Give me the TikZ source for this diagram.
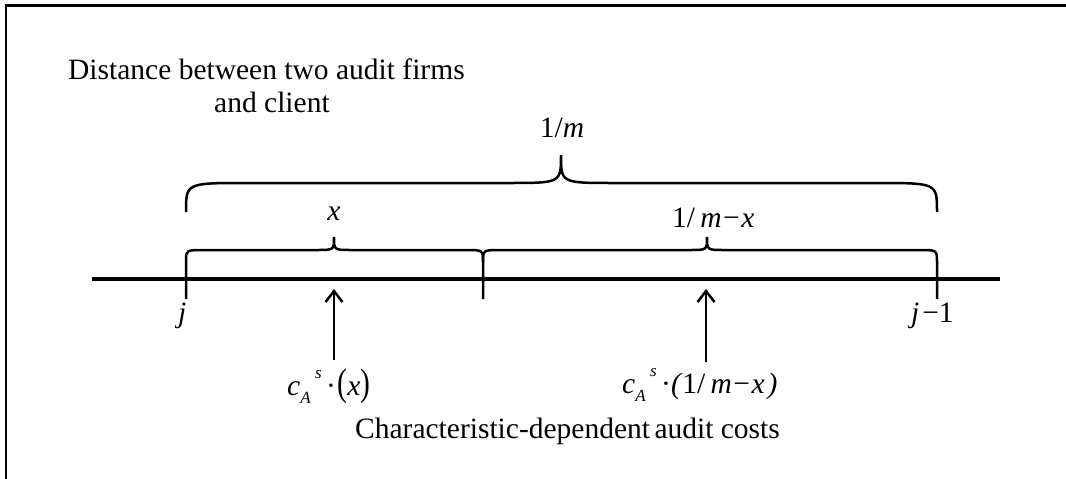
\documentclass[tikz,border=0pt]{standalone}
\usepackage{fontspec}
\setmainfont{Liberation Serif}
\usetikzlibrary{arrows.meta}
\newcommand{\mi}[1]{\textit{#1}}
\newcommand{\smi}[1]{{\fontsize{17}{17}\selectfont\textit{#1}}}
\begin{document}
\begin{tikzpicture}[x=1pt,y=-1pt,
  lbl/.style={inner sep=0pt,font=\fontsize{29.5}{33}\selectfont},
  frameline/.style={line width=2.8pt},
  axisline/.style={line width=3.2pt},
  bracel/.style={line width=2.5pt},
  costarrow/.style={line width=2.5pt,-{Straight Barb[length=11pt,width=17pt]}}]
\useasboundingbox (0,0) rectangle (1066,479);
% frame (top and left only)
\draw[frameline] (6,479) -- (6,5.5) -- (1066,5.5);
% axis
\coordinate (axL) at (92,279);
\coordinate (axR) at (1000,279);
\draw[axisline] (axL) -- (axR);
% ticks
\coordinate (tj) at (186,299);
\coordinate (tm) at (483,299);
\coordinate (tr) at (937,299);
% small braces (with ticks)
\draw[bracel] (tj) -- (186,260) .. controls (186,250) .. (206,250) -- (317,250)
  .. controls (334,250) .. (334,237) .. controls (334,250) .. (351,250) -- (465,250)
  .. controls (483,250) .. (483,262) -- (tm);
\draw[bracel] (483,262) .. controls (483,250) .. (501,250) -- (690,250)
  .. controls (707,250) .. (707,237) .. controls (707,250) .. (724,250) -- (919,250)
  .. controls (937,250) .. (937,262) -- (tr);
% big brace
\draw[bracel] (186,212) .. controls (186,183) .. (246,183) -- (508,183)
  .. controls (561,183) .. (561,155) .. controls (561,183) .. (614,183) -- (877,183)
  .. controls (937,183) .. (937,212);
% labels
\node[lbl,anchor=base west] (d1) at (68,79) {Distance between two audit firms};
\node[lbl,anchor=base west] (d2) at (214,112) {and client};
\node[lbl,anchor=base] (onem) at (562,137) {1/\mi{m}};
\node[lbl,anchor=base] (xl) at (334,220) {\mi{x}};
\node[lbl,anchor=base west] (rest) at (672,227) {1/\hspace{0.18em}\mi{m}\hspace{0.05em}−\hspace{0.05em}\mi{x}};
\node[lbl,anchor=base west] (jl) at (178,322) {\mi{j}};
\node[lbl,anchor=base west] (j1) at (911,322) {\mi{j}\hspace{0.1em}−1};
\node[lbl,anchor=base west] (c1) at (287,395) {\mi{c}\raisebox{-0.3em}{\smi{A}}\hspace{0.15em}\raisebox{0.55em}{\smi{s}}\hspace{0.15em}·\hspace{0.05em}\scalebox{1}[1.3]{(}\mi{x}\scalebox{1}[1.3]{)}};
\node[lbl,anchor=base west] (c2) at (622,393) {\mi{c}\raisebox{-0.3em}{\smi{A}}\hspace{0.15em}\raisebox{0.55em}{\smi{s}}\hspace{0.15em}·\mi{(}1/\hspace{0.18em}\mi{m}\hspace{0.05em}−\hspace{0.05em}\mi{x}\hspace{0.1em}\mi{)}};
\node[lbl,anchor=base west] (cost) at (355,438) {Characteristic-dependent\hspace{-0.1em} audit costs};
% arrows
\coordinate (a1s) at (334,360);
\coordinate (a1e) at (334,289);
\coordinate (a2s) at (706,362);
\coordinate (a2e) at (706,289);
\draw[costarrow] (a1s) -- (a1e);
\draw[costarrow] (a2s) -- (a2e);
\end{tikzpicture}
\end{document}
